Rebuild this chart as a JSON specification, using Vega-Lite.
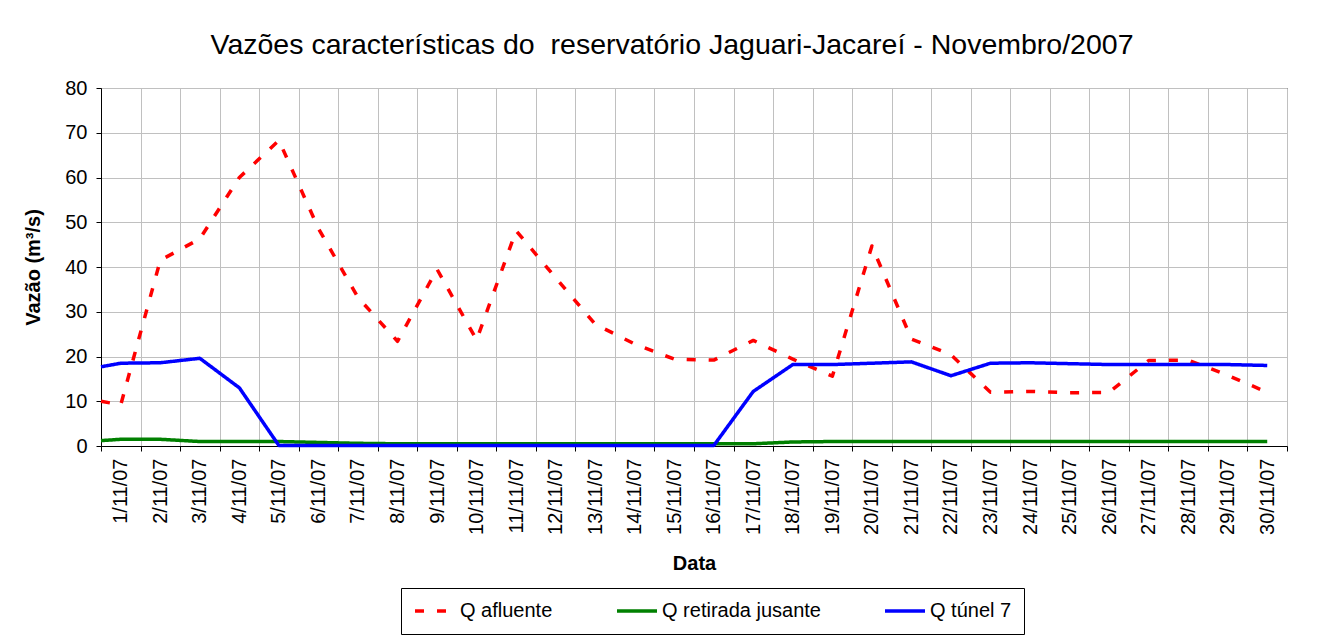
{
  "$schema": "https://vega.github.io/schema/vega-lite/v6.json",
  "width": 1186,
  "height": 358,
  "autosize": {"type": "none"},
  "padding": {"left": 101, "top": 88, "right": 56, "bottom": 191},
  "background": "white",
  "title": {
    "text": "Vazões características do \u00a0reservatório Jaguari-Jacareí - Novembro/2007",
    "font": "Liberation Sans",
    "fontSize": 28.5,
    "fontWeight": "normal",
    "color": "black",
    "anchor": "middle",
    "frame": "group",
    "dx": -22,
    "baseline": "alphabetic",
    "offset": -4
  },
  "data": {
    "values": [
      {"dia": 0.5, "Q afluente": 10, "Q retirada jusante": 1.2, "Q túnel 7": 17.7},
      {"dia": 1, "Q afluente": 9.2, "Q retirada jusante": 1.5, "Q túnel 7": 18.5},
      {"dia": 2, "Q afluente": 41.5, "Q retirada jusante": 1.5, "Q túnel 7": 18.6},
      {"dia": 3, "Q afluente": 46.3, "Q retirada jusante": 1.0, "Q túnel 7": 19.6},
      {"dia": 4, "Q afluente": 60, "Q retirada jusante": 1.0, "Q túnel 7": 13.0},
      {"dia": 5, "Q afluente": 68.3, "Q retirada jusante": 1.0, "Q túnel 7": 0.1},
      {"dia": 6, "Q afluente": 48.6, "Q retirada jusante": 0.8, "Q túnel 7": 0.1},
      {"dia": 7, "Q afluente": 33.2, "Q retirada jusante": 0.6, "Q túnel 7": 0.1},
      {"dia": 8, "Q afluente": 23.4, "Q retirada jusante": 0.5, "Q túnel 7": 0.1},
      {"dia": 9, "Q afluente": 39.5, "Q retirada jusante": 0.5, "Q túnel 7": 0.1},
      {"dia": 10, "Q afluente": 23.7, "Q retirada jusante": 0.5, "Q túnel 7": 0.1},
      {"dia": 11, "Q afluente": 48.1, "Q retirada jusante": 0.5, "Q túnel 7": 0.1},
      {"dia": 12, "Q afluente": 37.6, "Q retirada jusante": 0.5, "Q túnel 7": 0.1},
      {"dia": 13, "Q afluente": 27.2, "Q retirada jusante": 0.5, "Q túnel 7": 0.1},
      {"dia": 14, "Q afluente": 22.8, "Q retirada jusante": 0.5, "Q túnel 7": 0.1},
      {"dia": 15, "Q afluente": 19.4, "Q retirada jusante": 0.5, "Q túnel 7": 0.1},
      {"dia": 16, "Q afluente": 19.2, "Q retirada jusante": 0.5, "Q túnel 7": 0.1},
      {"dia": 17, "Q afluente": 23.6, "Q retirada jusante": 0.5, "Q túnel 7": 12.2},
      {"dia": 18, "Q afluente": 19.4, "Q retirada jusante": 0.9, "Q túnel 7": 18.2},
      {"dia": 19, "Q afluente": 15.6, "Q retirada jusante": 1.0, "Q túnel 7": 18.2},
      {"dia": 20, "Q afluente": 44.7, "Q retirada jusante": 1.0, "Q túnel 7": 18.5},
      {"dia": 21, "Q afluente": 23.9, "Q retirada jusante": 1.0, "Q túnel 7": 18.8},
      {"dia": 22, "Q afluente": 20.4, "Q retirada jusante": 1.0, "Q túnel 7": 15.7},
      {"dia": 23, "Q afluente": 12.0, "Q retirada jusante": 1.0, "Q túnel 7": 18.5},
      {"dia": 24, "Q afluente": 12.2, "Q retirada jusante": 1.0, "Q túnel 7": 18.6},
      {"dia": 25, "Q afluente": 11.9, "Q retirada jusante": 1.0, "Q túnel 7": 18.4},
      {"dia": 26, "Q afluente": 12.0, "Q retirada jusante": 1.0, "Q túnel 7": 18.2},
      {"dia": 27, "Q afluente": 19.1, "Q retirada jusante": 1.0, "Q túnel 7": 18.2},
      {"dia": 28, "Q afluente": 19.2, "Q retirada jusante": 1.0, "Q túnel 7": 18.2},
      {"dia": 29, "Q afluente": 15.8, "Q retirada jusante": 1.0, "Q túnel 7": 18.2},
      {"dia": 30, "Q afluente": 12.0, "Q retirada jusante": 1.0, "Q túnel 7": 18.0}
    ]
  },
  "transform": [
    {"fold": ["Q afluente", "Q retirada jusante", "Q túnel 7"], "as": ["serie", "vazao"]}
  ],
  "layer": [
    {
      "transform": [{"filter": {"field": "serie", "equal": "Q afluente"}}],
      "mark": {"type": "line", "strokeWidth": 3.5, "strokeCap": "butt", "strokeJoin": "round"},
      "encoding": {
        "x": {
          "field": "dia",
          "type": "quantitative",
          "scale": {"domain": [0.5, 30.5], "nice": false, "zero": false},
          "axis": {
            "orient": "bottom",
            "values": [0.5, 1.5, 2.5, 3.5, 4.5, 5.5, 6.5, 7.5, 8.5, 9.5, 10.5, 11.5, 12.5, 13.5, 14.5, 15.5, 16.5, 17.5, 18.5, 19.5, 20.5, 21.5, 22.5, 23.5, 24.5, 25.5, 26.5, 27.5, 28.5, 29.5, 30.5],
            "labels": false,
            "ticks": true,
            "tickSize": 5,
            "grid": true,
            "domain": true,
            "title": null
          }
        },
        "y": {
          "field": "vazao",
          "type": "quantitative",
          "scale": {"domain": [0, 80], "nice": false},
          "axis": {
            "values": [0, 10, 20, 30, 40, 50, 60, 70, 80],
            "tickSize": 5,
            "labelPadding": 9,
            "grid": true,
            "title": "Vazão (m³/s)",
            "titleX": -68,
            "titleY": 179,
            "titleAngle": -90,
            "titleAlign": "center",
            "titleBaseline": "middle"
          }
        },
        "color": {
          "field": "serie",
          "type": "nominal",
          "scale": {"domain": ["Q afluente", "Q retirada jusante", "Q túnel 7"], "range": ["#ff0000", "#008000", "#0000ff"]},
          "legend": {"title": null}
        },
        "strokeDash": {
          "field": "serie",
          "type": "nominal",
          "scale": {"domain": ["Q afluente", "Q retirada jusante", "Q túnel 7"], "range": [[9, 13], [1, 0], [1, 0]]},
          "legend": {"title": null}
        }
      }
    },
    {
      "transform": [{"filter": {"field": "serie", "oneOf": ["Q retirada jusante", "Q túnel 7"]}}],
      "mark": {"type": "line", "strokeWidth": 3.5, "strokeCap": "butt", "strokeJoin": "round"},
      "encoding": {
        "x": {
          "field": "dia",
          "type": "quantitative",
          "scale": {"domain": [0.5, 30.5], "nice": false, "zero": false},
          "axis": {
            "orient": "bottom",
            "values": [1, 2, 3, 4, 5, 6, 7, 8, 9, 10, 11, 12, 13, 14, 15, 16, 17, 18, 19, 20, 21, 22, 23, 24, 25, 26, 27, 28, 29, 30],
            "labelExpr": "datum.value + '/11/07'",
            "labelAngle": -90,
            "labelOverlap": false,
            "labelFlush": false,
            "ticks": false,
            "tickSize": 0,
            "domain": false,
            "grid": false,
            "labelPadding": 12,
            "title": "Data",
            "titleY": 117,
            "titleBaseline": "middle"
          }
        },
        "y": {
          "field": "vazao",
          "type": "quantitative",
          "scale": {"domain": [0, 80], "nice": false},
          "axis": {
            "values": [0, 10, 20, 30, 40, 50, 60, 70, 80],
            "tickSize": 5,
            "labelPadding": 9,
            "grid": true,
            "title": "Vazão (m³/s)",
            "titleX": -68,
            "titleY": 179,
            "titleAngle": -90,
            "titleAlign": "center",
            "titleBaseline": "middle"
          }
        },
        "color": {
          "field": "serie",
          "type": "nominal",
          "scale": {"domain": ["Q afluente", "Q retirada jusante", "Q túnel 7"], "range": ["#ff0000", "#008000", "#0000ff"]},
          "legend": {"title": null}
        },
        "strokeDash": {
          "field": "serie",
          "type": "nominal",
          "scale": {"domain": ["Q afluente", "Q retirada jusante", "Q túnel 7"], "range": [[9, 13], [1, 0], [1, 0]]},
          "legend": {"title": null}
        }
      }
    }
  ],
  "resolve": {"axis": {"x": "independent"}},
  "config": {
    "font": "Liberation Sans",
    "view": {"stroke": "black", "strokeWidth": 1},
    "axis": {
      "labelFont": "Liberation Sans",
      "titleFont": "Liberation Sans",
      "labelColor": "black",
      "titleColor": "black",
      "labelFontSize": 20,
      "titleFontSize": 20,
      "titleFontWeight": "bold",
      "domainColor": "black",
      "tickColor": "black",
      "gridColor": "#c0c0c0",
      "gridWidth": 1
    },
    "legend": {
      "orient": "none",
      "legendX": 300,
      "legendY": 500,
      "direction": "horizontal",
      "symbolType": "stroke",
      "symbolSize": 1600,
      "symbolStrokeWidth": 3.5,
      "labelFont": "Liberation Sans",
      "labelFontSize": 20,
      "labelColor": "black",
      "labelOffset": 3,
      "labelLimit": 0,
      "columnPadding": 62,
      "padding": 12,
      "strokeColor": "black",
      "fillColor": "white",
      "clipHeight": 22
    }
  }
}
